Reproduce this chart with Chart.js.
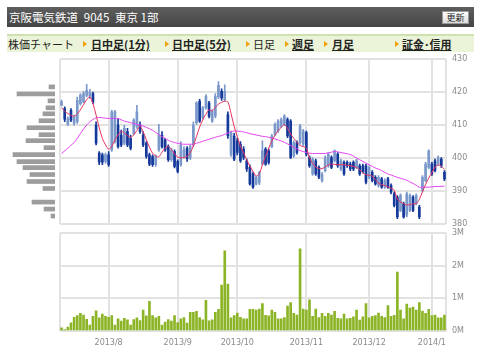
<!DOCTYPE html>
<html><head><meta charset="utf-8">
<script src="https://cdn.jsdelivr.net/npm/chart.js@4"></script>
<style>
body{margin:0;width:480px;height:357px;position:relative;overflow:hidden;background:#fff;font-family:"Noto Sans CJK JP",sans-serif;}
#hdr{position:absolute;left:7px;top:7px;width:467px;height:20px;background:linear-gradient(#5e5e5e,#454545);color:#fff;font-size:11.5px;line-height:20px;}
#hdr .t{position:absolute;left:2px;top:0;white-space:pre;}
#btn{position:absolute;left:435px;top:4px;width:25px;height:11px;background:linear-gradient(#ffffff,#dcdcdc);border:1px solid #999;color:#222;font-size:9px;line-height:11px;text-align:center;}
#nav{position:absolute;left:7px;top:34px;width:467px;height:16px;background:#ebf4d8;border-top:2px solid #cfe1ad;font-size:11px;line-height:16px;color:#222;}
#nav span{position:absolute;top:0;white-space:nowrap;}
#nav .l{font-weight:bold;text-decoration:underline;}
#nav .a{position:absolute;top:5px;width:0;height:0;border-left:4px solid #f0a00a;border-top:3px solid transparent;border-bottom:3px solid transparent;}
canvas{position:absolute;}
</style></head>
<body>
<div id="hdr"><div class="t">京阪電気鉄道&ensp;9045&ensp;東京 1部</div><div id="btn">更新</div></div>
<div id="nav">
<span style="left:1px">株価チャート</span>
<i class="a" style="left:76px"></i><span class="l" style="left:84px">日中足(1分)</span>
<i class="a" style="left:158px"></i><span class="l" style="left:165px">日中足(5分)</span>
<i class="a" style="left:239px"></i><span style="left:246px">日足</span>
<i class="a" style="left:278px"></i><span class="l" style="left:285px">週足</span>
<i class="a" style="left:317px"></i><span class="l" style="left:325px">月足</span>
<i class="a" style="left:388px"></i><span class="l" style="left:395px">証金･信用</span>
</div>
<canvas id="hist" width="55" height="166" style="left:0;top:59px;width:55px;height:166px"></canvas>
<canvas id="price" width="430" height="187" style="left:50px;top:48px;width:430px;height:187px"></canvas>
<canvas id="vol" width="430" height="135" style="left:50px;top:222px;width:430px;height:135px"></canvas>
<script>
// ---- data ----
const tickIdx = [15, 37, 56, 78, 98, 118];
const tickLabels = ['2013/8', '2013/9', '2013/10', '2013/11', '2013/12', '2014/1'];
const priceTicks = [380, 390, 400, 410, 420, 430];

const open = [416,415,410.2,414.5,410.5,411,416.5,417,419,418.8,419.5,410,401.5,401,399,401,402.5,405,410,407,404.5,408,406,407.5,409.5,410,407,404.5,401,400.5,398,
402.5,407,405.5,403.5,399.5,402,399,398,400.5,403,400,404,410.7,417.2,412.2,415.2,416.7,411.2,412.7,418.5,420.2,417.7,413.2,401.2,406.7,405.2,404.2,402.7,399.2,397.2,395.2,
392.2,392.5,398.2,402.7,402.2,403.5,407.2,408.2,409.7,410.2,411.7,411.2,400.7,404.7,404.7,404.2,407.7,400.2,395.2,399.2,397.2,393.2,396.2,397.7,400.2,399.2,401.2,396.7,398.7,398.7,398.2,
398.7,397.2,397.7,397.7,397.7,394.2,395.7,394.2,391.7,393.7,391.2,393.7,391.7,389.2,388.2,384.2,386.2,382.7,384.2,388.2,386.2,385.2,390.2,393.2,397.2,398.2,399.2,398.2,399.7,395.7];
const high = [417.6,415.5,412.5,415,413,418.5,419.5,420.2,422.3,420.8,420,411,402,401.5,401.5,402,414.5,414.5,412,408.5,410,409,407,412,416,411,408,405,401.5,401,401,
410.2,408,406,404,403,402.5,399.5,405,403.5,403.5,404,411,417,417.8,415.7,419.2,417.2,414.7,419.5,423.2,421,422.2,414,408.2,407.5,406,405,403.5,399.8,398,395.8,
394.5,396,405.2,403.2,402.8,407.2,410.7,411.7,412.2,413.2,412.2,411.7,405.2,405.2,410.2,408.7,408.2,400.7,400.2,399.7,397.7,395.7,400.7,401.7,400.7,402.5,401.7,399.7,399.2,399.2,398.8,
399.2,399.7,398.2,398.2,398.2,397.7,396.2,394.7,394.7,394.2,393.7,394.2,392.2,389.7,388.7,389.2,386.7,389.7,389.2,388.7,389.2,385.7,394.7,398.7,402.5,398.7,399.7,400.7,400.2,396.2];
const low = [415.8,411,409.8,411,410,410.5,416,416.8,418.5,418,416.5,404,398,398,398.5,397.5,402,404.5,403,403.5,404,403.5,402.5,407,409,407.5,403.5,400,397.7,397.5,397.5,
402,403,402,399,399,397,395.5,397.5,400,399,399.5,403.5,410.2,410.8,411.8,414.8,412.2,410.8,412.2,418,417.5,417.2,406,400.5,399.2,401,398.7,399.5,396,391.8,390.8,
391.8,392,398,397.8,398.2,403.2,406.8,407.8,409.2,409.8,406.2,399.8,400.2,401.2,404.2,403.8,400.7,397.2,394.8,394.8,393.8,392.7,395.8,397.2,396.8,398.8,397.2,396.2,394.8,397.2,396.2,
396.2,396.8,394.8,395.5,392.2,393.8,392.8,391.8,391.2,390.8,390.8,390.8,389.2,385.2,381.7,383.8,381.8,382.2,383.8,383.8,385.8,381.7,389.8,392.8,396.8,394.8,395.8,397.8,397.2,393.2];
const close = [417,411.8,412,411.5,412.5,417.5,419,419.5,420.5,420,417,404.5,398.8,398.8,401,398,414,414,403.5,404,409,404,403,411.5,414,408,404,400.5,398.2,398,400.5,
407,403.5,402.5,399.5,402.5,397.5,396,404,402.5,399.8,403.5,410,416.7,411.2,415.2,418.7,412.7,414.2,418.7,422,418.2,420.2,406.7,407.7,399.7,401.7,399.2,400.2,396.7,392.2,391.2,
394.2,395.7,402.2,398.2,398.7,406.7,410.2,411.2,411.7,412.7,406.7,400.2,404.7,401.7,409.7,408.2,401.2,397.7,399.7,395.2,394.2,395.2,400.2,401.2,397.2,402.2,397.7,399.2,395.2,397.7,396.7,
396.7,399.2,395.2,396,392.7,397.2,393.2,392.2,394.2,391.2,393.2,391.2,389.7,385.7,382.2,388.7,382.2,389.2,388.7,384.2,388.7,382.2,394.2,398.2,402.2,395.2,396.2,400.2,397.7,393.7];
const ma5 = [415.3,414.2,413.5,413,412.7,413.4,414.6,416.2,417.7,418.6,416.5,413,409.2,406,404,402.7,403.6,405.5,407,408.1,407.6,406.8,406.4,407,408.4,409.6,408,405.6,403.3,401.5,400.6,
400.4,401.8,403,403.6,402.6,401.3,400.3,400.1,400.2,400.5,401.6,403.7,406.6,409.4,411.6,413.3,414.6,414.3,415.4,416.3,416.9,417.2,417,413.5,409.6,406.5,403.6,401.6,399.5,397.6,396,
394.6,395.2,398,400.5,403,405.2,406.9,408.3,409.3,410.1,409,407.3,406,404.8,403.8,403.5,403,400,398.5,397.3,396.9,396.8,397.4,397.9,398.2,398.1,398,398,398,397.8,397.7,
397.5,397.2,396.5,395.5,395,394.8,394.6,393.5,392.4,392,391.7,391.3,390.9,390.3,387.6,386.8,386.2,385.8,385.9,386.2,386.2,387.5,389.8,392,394,395.5,397.3,397.9,397.6,396.6];
const ma25 = [401.4,402.2,403,403.9,404.7,406,407.4,408.8,410,411,411.7,412.2,412.3,412.2,412.1,412,412,412,412,411.6,411.2,411,410.7,410.5,410.2,410,409.7,409.3,408.9,408.4,407.8,
407.1,406.5,406,405.4,405,404.7,404.5,404.3,404.2,404.2,404.2,404.2,404.5,404.8,405.1,405.4,405.7,406,406.3,406.6,406.8,407.2,407.6,408,408.2,408.2,408.1,407.9,407.7,407.4,407.2,
407,406.8,406.6,406.5,406.3,406.1,405.8,405.5,405.2,404.8,404.3,403.8,403.3,402.8,402.3,402,401.7,401.5,401.4,401.4,401.4,401.4,401.4,401.6,401.8,402,401.9,401.7,401.5,401.3,401.1,
400.6,400,399.5,399,398.5,398,397.5,397,396.7,396.2,395.7,395.2,394.9,394.5,394.2,393.9,393.6,393.3,392.8,392.3,391.8,391.2,391.2,391.2,391.2,391.3,391.4,391.4,391.5,391.5];
const volume = [0.10,0.04,0.12,0.25,0.42,0.47,0.54,0.49,0.36,0.18,0.45,0.62,0.40,0.52,0.45,0.42,0.47,0.18,0.37,0.30,0.39,0.34,0.18,0.35,0.40,0.32,0.64,0.46,0.91,0.47,0.40,
0.45,0.18,0.27,0.35,0.30,0.47,0.26,0.37,0.41,0.24,0.57,0.57,0.60,0.41,0.34,0.94,0.31,0.34,0.57,0.66,1.40,2.45,1.43,0.40,0.47,0.55,0.42,0.37,0.37,0.66,0.66,
0.64,0.67,0.84,0.48,0.46,0.64,0.57,0.37,0.37,0.41,0.76,0.87,0.54,0.49,2.51,0.67,0.64,0.95,0.45,0.67,0.41,0.54,0.45,0.54,0.49,0.60,0.39,0.37,0.52,0.37,0.39,
0.43,0.64,0.33,0.43,0.84,0.40,0.45,0.47,0.55,0.45,0.41,0.78,0.45,0.48,1.80,0.64,0.37,0.82,0.70,0.73,0.64,0.87,0.61,0.54,0.66,0.47,0.49,0.40,0.40,0.49];
const volTicks = [0, 1, 2, 3];
const histPrice = [421.6,419.5,417.4,415.3,413.5,411.4,409.3,407.2,405.4,403.3,401.2,399.1,397.3,395.2,393.1,391.0,386.9,384.8,382.7];
const histVol = [6,38,7,9,12,16,28,16,29,11,42,38,32,25,28,12,23,11,4];

// ---- charts ----
Chart.defaults.font.family = 'DejaVu Sans';
Chart.defaults.font.size = 8;
Chart.defaults.color = '#8a8a8a';
const N = close.length;
const GRID = '#e2e2e2';
const xTickVals = [-0.5].concat(tickIdx, [N - 0.5]);
function xAxis(showLabels) {
  return {
    type: 'linear', min: -0.5, max: N - 0.5, offset: false,
    afterBuildTicks: s => { s.ticks = xTickVals.map(v => ({ value: v })); },
    grid: { color: GRID, lineWidth: 2, drawTicks: false, offset: false },
    border: { display: false },
    ticks: { display: showLabels, autoSkip: false, maxRotation: 0, minRotation: 0, padding: 7, color: '#8a8a8a',
      callback: v => { const k = tickIdx.indexOf(v); return k >= 0 ? tickLabels[k] : ''; } },
    afterFit: s => { s.height = showLabels ? 20 : 0; }
  };
}
const baseOpts = { animation: false, responsive: false, devicePixelRatio: 1, events: [],
  plugins: { legend: { display: false }, tooltip: { enabled: false } } };

const UP = '#7b98cb', DOWN = '#14399b';
const candleCol = open.map((o, i) => close[i] >= o ? UP : DOWN);

new Chart(document.getElementById('price'), {
  type: 'bar',
  data: { datasets: [
    { type: 'line', data: ma5.map((v, i) => ({ x: i, y: v })), borderColor: '#e8325f', borderWidth: 1, pointRadius: 0, tension: 0.3, order: 0 },
    { type: 'line', data: ma25.map((v, i) => ({ x: i, y: v })), borderColor: '#e444f2', borderWidth: 1, pointRadius: 0, tension: 0.3, order: 1 },
    { type: 'bar', data: open.map((o, i) => ({ x: i, y: [o, close[i]] })), backgroundColor: candleCol, barThickness: 2, grouped: false, order: 2 },
    { type: 'bar', data: low.map((l, i) => ({ x: i, y: [l, high[i]] })), backgroundColor: candleCol, barThickness: 1, grouped: false, order: 3 }
  ] },
  options: Object.assign({}, baseOpts, {
    layout: { padding: { left: 10, top: 11, right: 0, bottom: 10 } },
    scales: {
      x: xAxis(false),
      y: { position: 'right', min: priceTicks[0], max: priceTicks[priceTicks.length - 1],
        afterBuildTicks: s => { s.ticks = priceTicks.map(v => ({ value: v })); },
        grid: { color: GRID, lineWidth: 2, drawTicks: false }, border: { display: false },
        ticks: { padding: 6, color: '#8a8a8a' }, afterFit: s => { s.width = 34; } }
    }
  })
});

new Chart(document.getElementById('vol'), {
  type: 'bar',
  data: { datasets: [
    { data: volume.map((v, i) => ({ x: i, y: v })), backgroundColor: '#8cb427', barThickness: 2 }
  ] },
  options: Object.assign({}, baseOpts, {
    layout: { padding: { left: 10, top: 10, right: 0, bottom: 6 } },
    scales: {
      x: xAxis(true),
      y: { position: 'right', min: 0, max: 3,
        afterBuildTicks: s => { s.ticks = volTicks.map(v => ({ value: v })); },
        grid: { color: GRID, lineWidth: 2, drawTicks: false }, border: { display: false },
        ticks: { padding: 6, color: '#8a8a8a', callback: v => v + 'M' }, afterFit: s => { s.width = 34; } }
    }
  })
});

new Chart(document.getElementById('hist'), {
  type: 'bar',
  data: { datasets: [
    { data: histPrice.map((p, i) => ({ x: histVol[i], y: p })), backgroundColor: '#9d9d9d', barThickness: 4 }
  ] },
  options: Object.assign({}, baseOpts, {
    indexAxis: 'y',
    layout: { padding: 0 },
    scales: {
      x: { display: false, min: 0, max: 55, reverse: true },
      y: { type: 'linear', display: false, min: 380, max: 430, offset: false }
    }
  })
});
</script>
</body></html>
